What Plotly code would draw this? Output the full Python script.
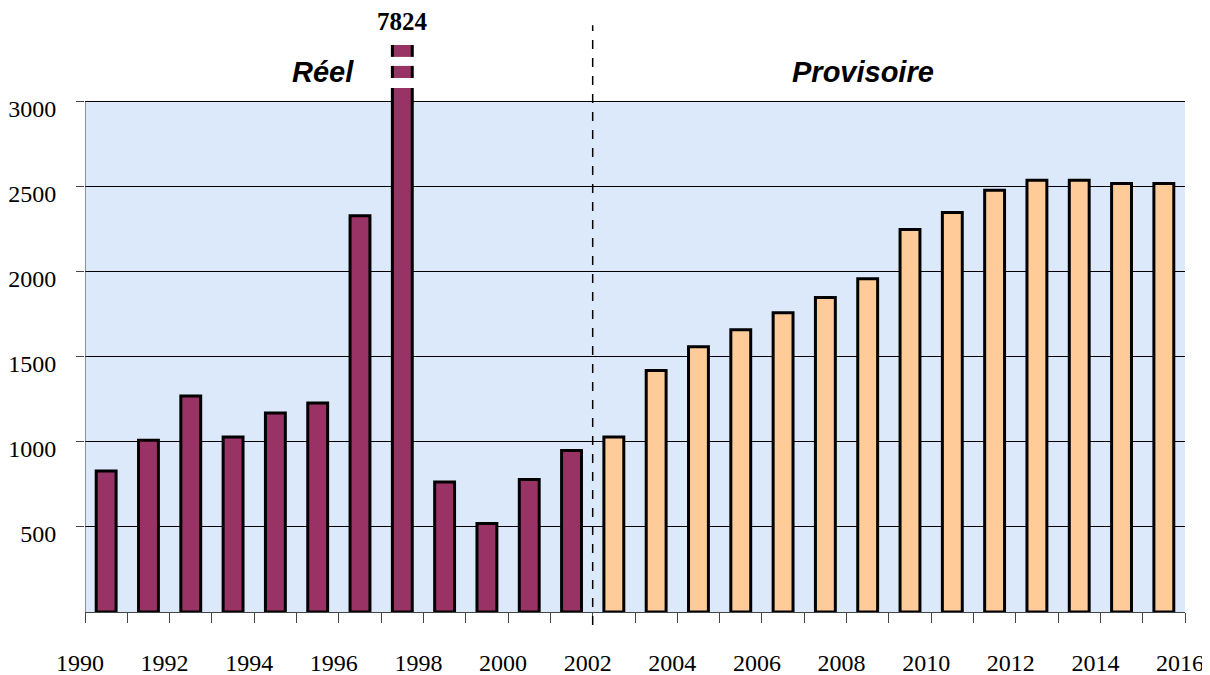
import plotly.graph_objects as go

# Data
years_reel = list(range(1990, 2002))
values_reel = [830, 1010, 1270, 1030, 1170, 1230, 2330, 7824, 765, 520, 780, 950]
years_prov = list(range(2002, 2016))
values_prov = [1030, 1420, 1560, 1660, 1760, 1850, 1960, 2250, 2350, 2480, 2540, 2540, 2520, 2520]
y_ticks = [500, 1000, 1500, 2000, 2500, 3000]
x_tick_years = list(range(1990, 2017))
x_tick_labels = [str(y) if y % 2 == 0 else "" for y in x_tick_years]

Y_MAX = 3335
BAR_W = 0.47

fig = go.Figure()
fig.add_trace(go.Bar(
    x=[y + 0.5 for y in years_reel], y=values_reel, width=BAR_W,
    marker=dict(color="#993366", line=dict(color="black", width=3)),
    name="Réel", showlegend=False,
))
fig.add_trace(go.Bar(
    x=[y + 0.5 for y in years_prov], y=values_prov, width=BAR_W,
    marker=dict(color="#FFCC99", line=dict(color="black", width=3)),
    name="Provisoire", showlegend=False,
))

# background plot area
fig.add_shape(type="rect", xref="x", yref="y", x0=1990, x1=2016, y0=0, y1=3000,
              fillcolor="#dce9fa", line=dict(width=0), layer="below")
# left axis line
fig.add_shape(type="line", xref="x", yref="y", x0=1990, x1=1990, y0=0, y1=3000,
              line=dict(color="#555555", width=1.2), layer="above")
# break marks on the 7824 bar
for g0, g1 in [(3082, 3141), (3212, 3265)]:
    fig.add_shape(type="rect", xref="x", yref="y", x0=1997.5 - 0.32, x1=1997.5 + 0.32,
                  y0=g0, y1=g1, fillcolor="white", line=dict(width=0), layer="above")
# dashed separator
fig.add_shape(type="line", xref="x", yref="paper", x0=2002, x1=2002, y0=-0.023, y1=1.035,
              line=dict(color="black", width=1.5, dash="dash"), layer="above")

fig.add_annotation(x=1995.63, y=0.952, xref="x", yref="paper", text="<b><i>Réel</i></b>",
                   xanchor="center", yanchor="middle", showarrow=False,
                   font=dict(family="Liberation Sans", size=29, color="black"))
fig.add_annotation(x=2008.39, y=0.952, xref="x", yref="paper", text="<b><i>Provisoire</i></b>",
                   xanchor="center", yanchor="middle", showarrow=False,
                   font=dict(family="Liberation Sans", size=29, color="black"))
fig.add_annotation(x=1997.5, y=1.0406, xref="x", yref="paper", text="<b>7824</b>",
                   xanchor="center", yanchor="middle", showarrow=False,
                   font=dict(family="Liberation Serif", size=25, color="black"))

fig.update_layout(
    width=1210, height=675,
    margin=dict(l=77, r=33, t=37, b=71, autoexpand=False),
    paper_bgcolor="white", plot_bgcolor="white",
    barmode="overlay",
    font=dict(family="Liberation Serif", size=24, color="black"),
    xaxis=dict(
        range=[1990, 2016], tickvals=x_tick_years, ticktext=x_tick_labels,
        ticks="outside", ticklen=10, tickcolor="#444444", tickwidth=1,
        showline=True, linecolor="#444444", linewidth=1.2,
        showgrid=False, zeroline=False, ticklabelstandoff=19, ticklabelshift=-5,
        automargin=False,
        tickfont=dict(family="Liberation Serif", size=24),
    ),
    yaxis=dict(
        range=[0, Y_MAX], tickvals=y_ticks, ticktext=[str(v) for v in y_ticks],
        ticks="outside", ticklen=8, tickcolor="#444444",
        showgrid=True, gridcolor="black", gridwidth=1,
        showline=False, zeroline=False, ticklabelstandoff=15, ticklabelshift=7,
        automargin=False,
        tickfont=dict(family="Liberation Serif", size=24),
    ),
)

fig.write_html("out.html")
